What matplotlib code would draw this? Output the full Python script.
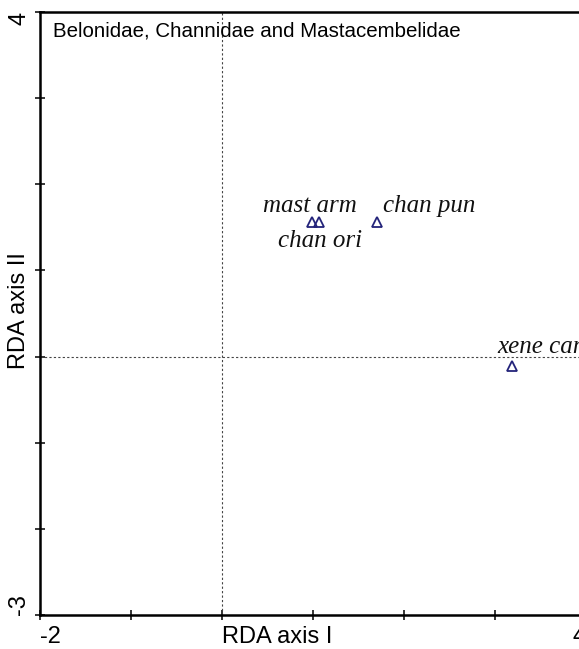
import matplotlib
matplotlib.use("Agg")
from matplotlib import pyplot as plt

# species scores (RDA axis I, RDA axis II)
species = ["mast arm", "chan ori", "chan pun", "xene car"]
axis1 = [0.99, 1.07, 1.70, 3.19]
axis2 = [1.56, 1.56, 1.56, -0.11]
# label offsets in pixels, and alignment
offsets = [(-2, 16, "center"), (1, -19, "center"), (6, 16, "left"), (-15, 19, "left")]

title = "Belonidae, Channidae and Mastacembelidae"

W, H = 579, 649
fig = plt.figure(figsize=(W / 100, H / 100), dpi=100)
ax = fig.add_axes([40 / W, (H - 615) / H, (586 - 40) / W, (615 - 12) / H])

ax.set_xlim(-2, 4)
ax.set_ylim(-3, 4)

ax.axvline(0, color="#444444", lw=0.8, ls=(0, (2, 2)))
ax.axhline(0, color="#444444", lw=0.8, ls=(0, (2, 2)))

ax.plot(axis1, axis2, ls="none", marker="^", ms=7, mfc="none",
        mec="#23237a", mew=1.3, clip_on=False)

for name, x, y, (dx, dy, ha) in zip(species, axis1, axis2, offsets):
    ax.annotate(name, (x, y), xytext=(dx, dy), textcoords="offset pixels",
                ha=ha, va="center", fontsize=18, style="italic",
                family="Liberation Serif", color="#111111")

for s in ["left", "bottom", "top", "right"]:
    ax.spines[s].set_linewidth(1.8)

ax.set_xticks(range(-2, 5))
ax.set_yticks(range(-3, 5))
ax.tick_params(direction="inout", length=7, width=1.1, labelbottom=False, labelleft=False)

sans = "Liberation Sans"
ax.text(-2, -3.13, "-2", ha="left", va="top", fontsize=17, family=sans)
ax.text(4, -3.13, "4", ha="right", va="top", fontsize=17, family=sans)
ax.text(0, -3.13, "RDA axis I", ha="left", va="top", fontsize=17, family=sans)

ax.text(-2.23, 4, "4", rotation=90, ha="center", va="top", fontsize=17, family=sans)
ax.text(-2.23, -3, "-3", rotation=90, ha="center", va="bottom", fontsize=17, family=sans)
ax.text(-2.23, 0.53, "RDA axis II", rotation=90, ha="center", va="center", fontsize=17, family=sans)

fig.text(53 / W, 1 - 31 / H, title, ha="left", va="center", fontsize=14.8, family=sans)

fig.savefig("out.png", dpi=100)
